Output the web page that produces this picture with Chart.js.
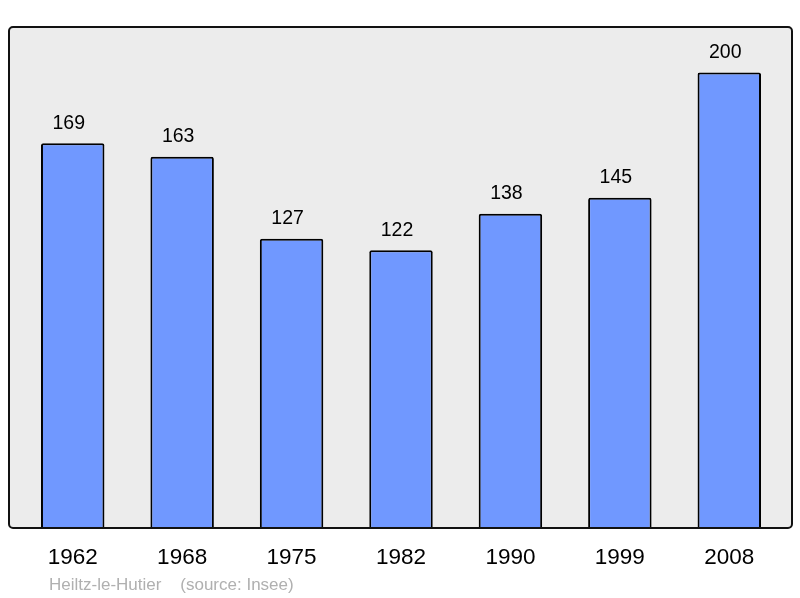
<!DOCTYPE html>
<html>
<head>
<meta charset="utf-8">
<script src="https://cdn.jsdelivr.net/npm/chart.js@4"></script>
<style>
  html, body { margin: 0; padding: 0; background: #fff; }
  #wrap { width: 800px; height: 598px; }
</style>
</head>
<body>
<div id="wrap"><canvas id="popChart" width="800" height="598"></canvas></div>
<script>
// Years and population values
var years = ["1962", "1968", "1975", "1982", "1990", "1999", "2008"];
var population = [169, 163, 127, 122, 138, 145, 200];
var footerText = "Heiltz-le-Hutier    (source: Insee)";

// grey box behind the bars, border on top
var frameBox = {
  id: "frameBox",
  beforeDatasetsDraw: function (chart) {
    var ctx = chart.ctx, a = chart.chartArea;
    ctx.save();
    ctx.beginPath();
    ctx.roundRect(a.left - 9, a.top, a.right - a.left + 17, a.bottom - a.top, 4);
    ctx.fillStyle = "#ececec";
    ctx.fill();
    ctx.restore();
  },
  afterDatasetsDraw: function (chart) {
    var ctx = chart.ctx, a = chart.chartArea;
    ctx.save();
    ctx.beginPath();
    ctx.roundRect(a.left - 9, a.top, a.right - a.left + 17, a.bottom - a.top, 4);
    ctx.lineWidth = 2;
    ctx.strokeStyle = "#111";
    ctx.stroke();

    // value labels above bars
    var meta = chart.getDatasetMeta(0);
    ctx.fillStyle = "#000";
    ctx.font = "19.5px 'Liberation Sans', Arial, sans-serif";
    ctx.textAlign = "center";
    ctx.textBaseline = "middle";
    meta.data.forEach(function (bar, i) {
      ctx.fillText(population[i], bar.x - 4, bar.y - 20);
    });

    // footer
    ctx.fillStyle = "#b0b0b0";
    ctx.font = "17px 'Liberation Sans', Arial, sans-serif";
    ctx.textAlign = "left";
    ctx.fillText(footerText, 49, 585);
    ctx.restore();
  }
};

new Chart(document.getElementById("popChart"), {
  type: "bar",
  data: {
    labels: years,
    datasets: [{
      data: population,
      backgroundColor: "#7098ff",
      borderColor: "#000",
      borderWidth: 2,
      borderRadius: 2,
      borderSkipped: "bottom",
      barPercentage: 0.58,
      categoryPercentage: 1.0
    }]
  },
  options: {
    responsive: false,
    animation: false,
    layout: { padding: { left: 18, right: 16, top: 27, bottom: 10 } },
    plugins: {
      legend: { display: false },
      tooltip: { enabled: false }
    },
    scales: {
      x: {
        grid: { display: false, drawTicks: false },
        border: { display: false },
        ticks: {
          color: "#000",
          padding: 16.5,
          font: { size: 22.5, family: "'Liberation Sans', Arial, sans-serif" }
        }
      },
      y: {
        display: false,
        min: 0,
        max: 220
      }
    }
  },
  plugins: [frameBox]
});
</script>
</body>
</html>
